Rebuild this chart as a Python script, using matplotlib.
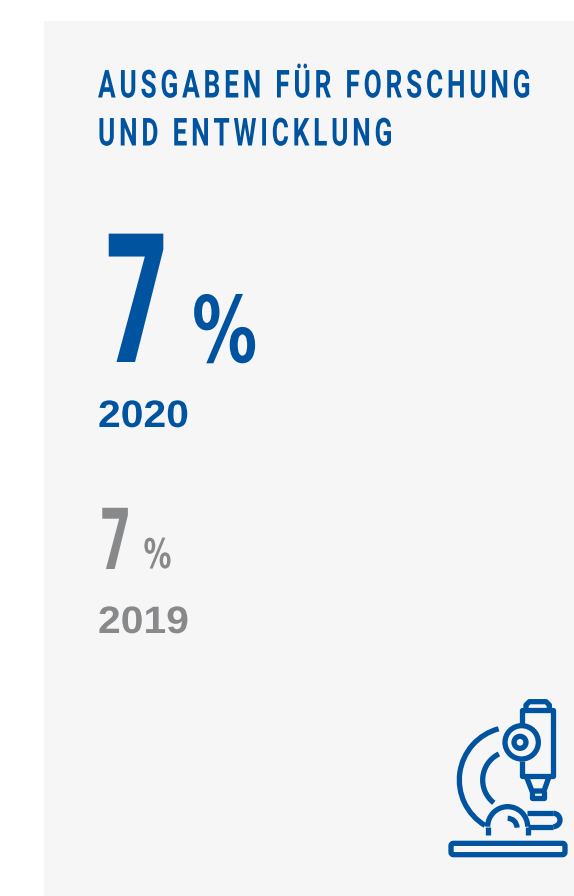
import numpy as np
import matplotlib
matplotlib.use("Agg")
import matplotlib.pyplot as plt
import matplotlib.patheffects as pe
from matplotlib.patches import Rectangle, FancyBboxPatch, Circle, PathPatch
from matplotlib.path import Path
from matplotlib.text import Text
from matplotlib.textpath import TextPath
from matplotlib.font_manager import FontProperties
from matplotlib.transforms import Bbox

title_lines = ["AUSGABEN FÜR FORSCHUNG", "UND ENTWICKLUNG"]
years = ["2020", "2019"]
values = [7, 7]
BLUE = "#00539f"
GREY = "#88898b"
BG = "#f6f6f6"

fig = plt.figure(figsize=(5.74, 8.96), dpi=100, facecolor="white")
ax = fig.add_axes([0, 0, 1, 1])
ax.set_xlim(0, 574)
ax.set_ylim(896, 0)
ax.axis("off")
ax.add_patch(Rectangle((44, 21), 530, 875, fc=BG, ec="none"))


class Condense(pe.AbstractPathEffect):
    """Squeeze glyph outlines horizontally and add letter spacing (no condensed font is installed)."""

    def __init__(self, text, fp, sx=1.0, track=0.0):
        super().__init__()
        self.sx, self.track = sx, track
        self.counts = [int(np.sum(TextPath((0, 0), c, prop=fp).codes == Path.MOVETO)) if c != " " else 0 for c in text]

    def draw_path(self, renderer, gc, tpath, affine, rgbFace=None):
        v = tpath.vertices.copy()
        codes = tpath.codes
        starts = np.flatnonzero(codes == Path.MOVETO)
        bounds = list(starts) + [len(v)]
        shift = np.zeros(len(v))
        contour = 0
        for i, n in enumerate(self.counts):
            for _ in range(n):
                if contour < len(starts):
                    shift[bounds[contour]:bounds[contour + 1]] = i * self.track
                    contour += 1
        v[:, 0] = v[:, 0] * self.sx + shift
        renderer.draw_path(gc, Path(v, codes), affine, rgbFace)


class CondensedText(Text):
    def __init__(self, *a, sx=1.0, track=0.0, n=1, **k):
        super().__init__(*a, **k)
        self._sx, self._track, self._n = sx, track, n

    def get_window_extent(self, renderer=None, dpi=None):
        b = super().get_window_extent(renderer, dpi)
        scale = self.get_fontsize() / 100 * self.get_figure().dpi / 72
        w = b.width * self._sx + (self._n - 1) * self._track * scale
        return Bbox.from_extents(b.x0, b.y0, b.x0 + w, b.y1)


def label(x, y, s, family, weight, size, color, sx=1.0, track=0.0):
    fp = FontProperties(family=family, weight=weight, size=size)
    t = CondensedText(x, y, s, fontproperties=fp, color=color, va="baseline", ha="left", sx=sx, track=track, n=len(s))
    t.set_path_effects([Condense(s, fp, sx, track)])
    ax.add_artist(t)
    return t


FONT = "Roboto"
PCT = "DejaVu Sans"
YEAR = "Liberation Sans"
for line, y in zip(title_lines, [97.5, 145.5]):
    label(98, y, line, FONT, "bold", 27.8, BLUE, sx=0.68, track=9.8)

label(106, 362, str(values[0]), FONT, "black", 130, BLUE, sx=0.59)
label(192, 362, "%", PCT, "bold", 66, BLUE, sx=0.71)
label(98, 427, years[0], YEAR, "bold", 27.5, BLUE, sx=1.07)
label(101, 569, str(values[1]), FONT, "black", 62, GREY, sx=0.58)
label(143.5, 568, "%", PCT, "bold", 29.5, GREY, sx=0.68)
label(98, 633, years[1], YEAR, "bold", 27.5, GREY, sx=1.07)

# microscope icon, drawn in zoom-crop units
X = lambda z: 430 + z / 3
Y = lambda z: 685 + z / 3
LW = 3.8
kw = dict(fc="none", ec=BLUE, lw=LW, capstyle="butt", joinstyle="round")


def poly(pts):
    ax.add_patch(PathPatch(Path([(X(a), Y(b)) for a, b in pts]), **kw))


def arc(cx, cy, r, t1, t2):
    p = Path.arc(t1, t2)
    v = p.vertices * r / 3 + [X(cx), Y(cy)]
    ax.add_patch(PathPatch(Path(v, p.codes), **kw))


ax.add_patch(FancyBboxPatch((X(63), Y(475)), 342 / 3, 34 / 3, boxstyle="round,pad=0,rounding_size=2.5", **kw))
poly([(275, 118), (275, 76), (370, 76), (370, 272), (275, 272), (275, 228)])
poly([(288, 76), (288, 60), (298, 50), (348, 50), (358, 60), (358, 76)])
poly([(288, 272), (306, 318), (342, 318), (358, 272)])
poly([(306, 318), (306, 339), (341, 339), (341, 318)])
ax.add_patch(Circle((X(275), Y(172)), 50 / 3, **kw))
ax.add_patch(Circle((X(270), Y(172)), 18 / 3, **kw))
arc(247, 285, 159, 121, 255)
arc(245, 285, 87, 128, 244)
arc(233, 425, 60, 180, 360)
poly([(173, 425), (173, 450)])
poly([(293, 425), (293, 450)])
arc(233, 428, 28, 270, 360)
poly([(290, 385), (370, 385)])
poly([(295, 425), (370, 425)])
arc(370, 405, 20, 270, 450)

fig.savefig("out.png", dpi=100, facecolor="white")
